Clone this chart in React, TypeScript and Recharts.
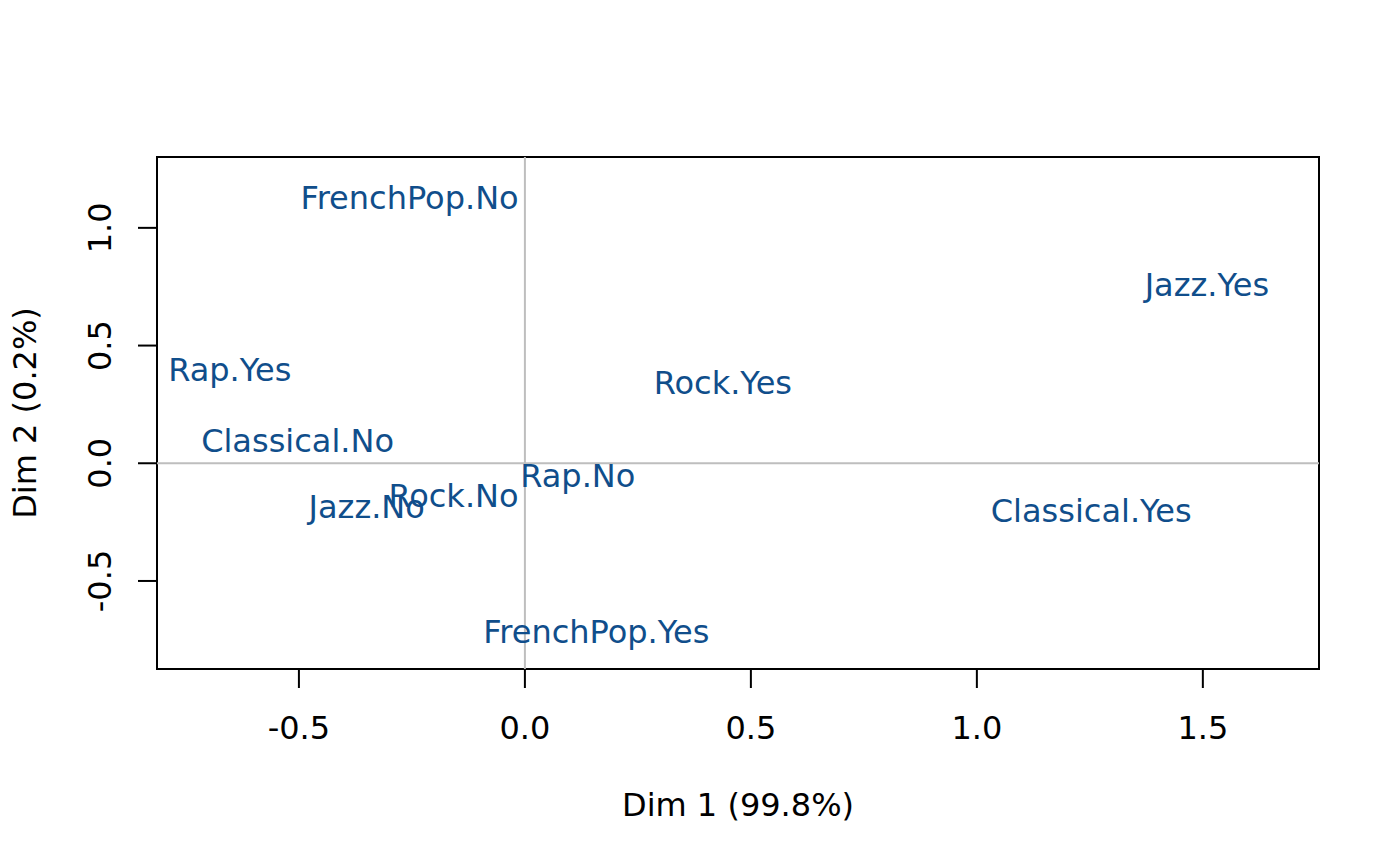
import * as React from 'react';
import {
    ScatterChart,
    Scatter,
    XAxis,
    YAxis,
    ReferenceLine,
    ReferenceArea
} from 'recharts';

// category labels and their coordinates on the two dimensions
const categories = [
    'FrenchPop.No', 'Jazz.Yes', 'Rap.Yes', 'Rock.Yes', 'Classical.No',
    'Rap.No', 'Rock.No', 'Jazz.No', 'Classical.Yes', 'FrenchPop.Yes'
];
const dim1 = [-0.255, 1.509, -0.653, 0.438, -0.503, 0.117, -0.158, -0.350, 1.253, 0.158];
const dim2 = [1.128, 0.761, 0.398, 0.345, 0.096, -0.053, -0.137, -0.182, -0.202, -0.715];

const xTicks = [-0.5, 0, 0.5, 1, 1.5];
const yTicks = [-0.5, 0, 0.5, 1];
const xDomain = [-0.814, 1.757];
const yDomain = [-0.874, 1.301];

const xTitle = 'Dim 1 (99.8%)';
const yTitle = 'Dim 2 (0.2%)';

const FONT = 32;
const HALF_CAP = 11.5;
const LABEL_COLOR = '#104E8B';

const points = categories.map((name, i) => ({ name, x: dim1[i], y: dim2[i] }));

const XTick = (props: any) => {
    const { x, y, payload } = props;
    return (
        <g>
            <line x1={x} x2={x} y1={y} y2={y + 19} stroke="#000" strokeWidth={2} />
            <text x={x} y={y + 58 + HALF_CAP} textAnchor="middle" fontSize={FONT} fill="#000">
                {payload.value.toFixed(1)}
            </text>
        </g>
    );
};

const YTick = (props: any) => {
    const { x, y, payload } = props;
    const tx = x - 57;
    return (
        <g>
            <line x1={x - 19} x2={x} y1={y} y2={y} stroke="#000" strokeWidth={2} />
            <text
                x={tx}
                y={y + HALF_CAP}
                transform={`rotate(-90 ${tx} ${y})`}
                textAnchor="middle"
                fontSize={FONT}
                fill="#000"
            >
                {payload.value.toFixed(1)}
            </text>
        </g>
    );
};

const PointLabel = (props: any) => {
    const { cx, cy, payload } = props;
    return (
        <text x={cx} y={cy + HALF_CAP} textAnchor="middle" fontSize={FONT} fill={LABEL_COLOR}>
            {payload.name}
        </text>
    );
};

const XTitle = (props: any) => {
    const vb = props.viewBox;
    return (
        <text x={vb.x + vb.width / 2} y={vb.y + 135 + HALF_CAP} textAnchor="middle" fontSize={FONT} fill="#000">
            {xTitle}
        </text>
    );
};

const YTitle = (props: any) => {
    const vb = props.viewBox;
    const cx = vb.x - 3;
    const cy = vb.y + vb.height / 2;
    return (
        <text
            x={cx}
            y={cy + HALF_CAP}
            transform={`rotate(-90 ${cx} ${cy})`}
            textAnchor="middle"
            fontSize={FONT}
            fill="#000"
        >
            {yTitle}
        </text>
    );
};

export default function App() {
    return (
        <div style={{ position: 'absolute', left: 0, top: 0, background: '#fff' }}>
            <ScatterChart
                width={1400}
                height={866}
                margin={{ top: 157, right: 81, bottom: 47, left: 27 }}
                style={{ fontFamily: '"DejaVu Sans", sans-serif' }}
            >
                <XAxis
                    type="number"
                    dataKey="x"
                    domain={xDomain}
                    ticks={xTicks}
                    interval={0}
                    height={150}
                    axisLine={false}
                    tickLine={false}
                    tickSize={0}
                    tickMargin={0}
                    tick={<XTick />}
                    allowDataOverflow
                    label={<XTitle />}
                />
                <YAxis
                    type="number"
                    dataKey="y"
                    domain={yDomain}
                    ticks={yTicks}
                    interval={0}
                    width={130}
                    axisLine={false}
                    tickLine={false}
                    tickSize={0}
                    tickMargin={0}
                    tick={<YTick />}
                    allowDataOverflow
                    label={<YTitle />}
                />
                <ReferenceLine x={0} stroke="#bebebe" strokeWidth={2} />
                <ReferenceLine y={0} stroke="#bebebe" strokeWidth={2} />
                <Scatter data={points} shape={<PointLabel />} isAnimationActive={false} />
                <ReferenceArea
                    x1={xDomain[0]}
                    x2={xDomain[1]}
                    y1={yDomain[0]}
                    y2={yDomain[1]}
                    fill="none"
                    fillOpacity={0}
                    stroke="#000"
                    strokeWidth={2}
                />
            </ScatterChart>
        </div>
    );
}
